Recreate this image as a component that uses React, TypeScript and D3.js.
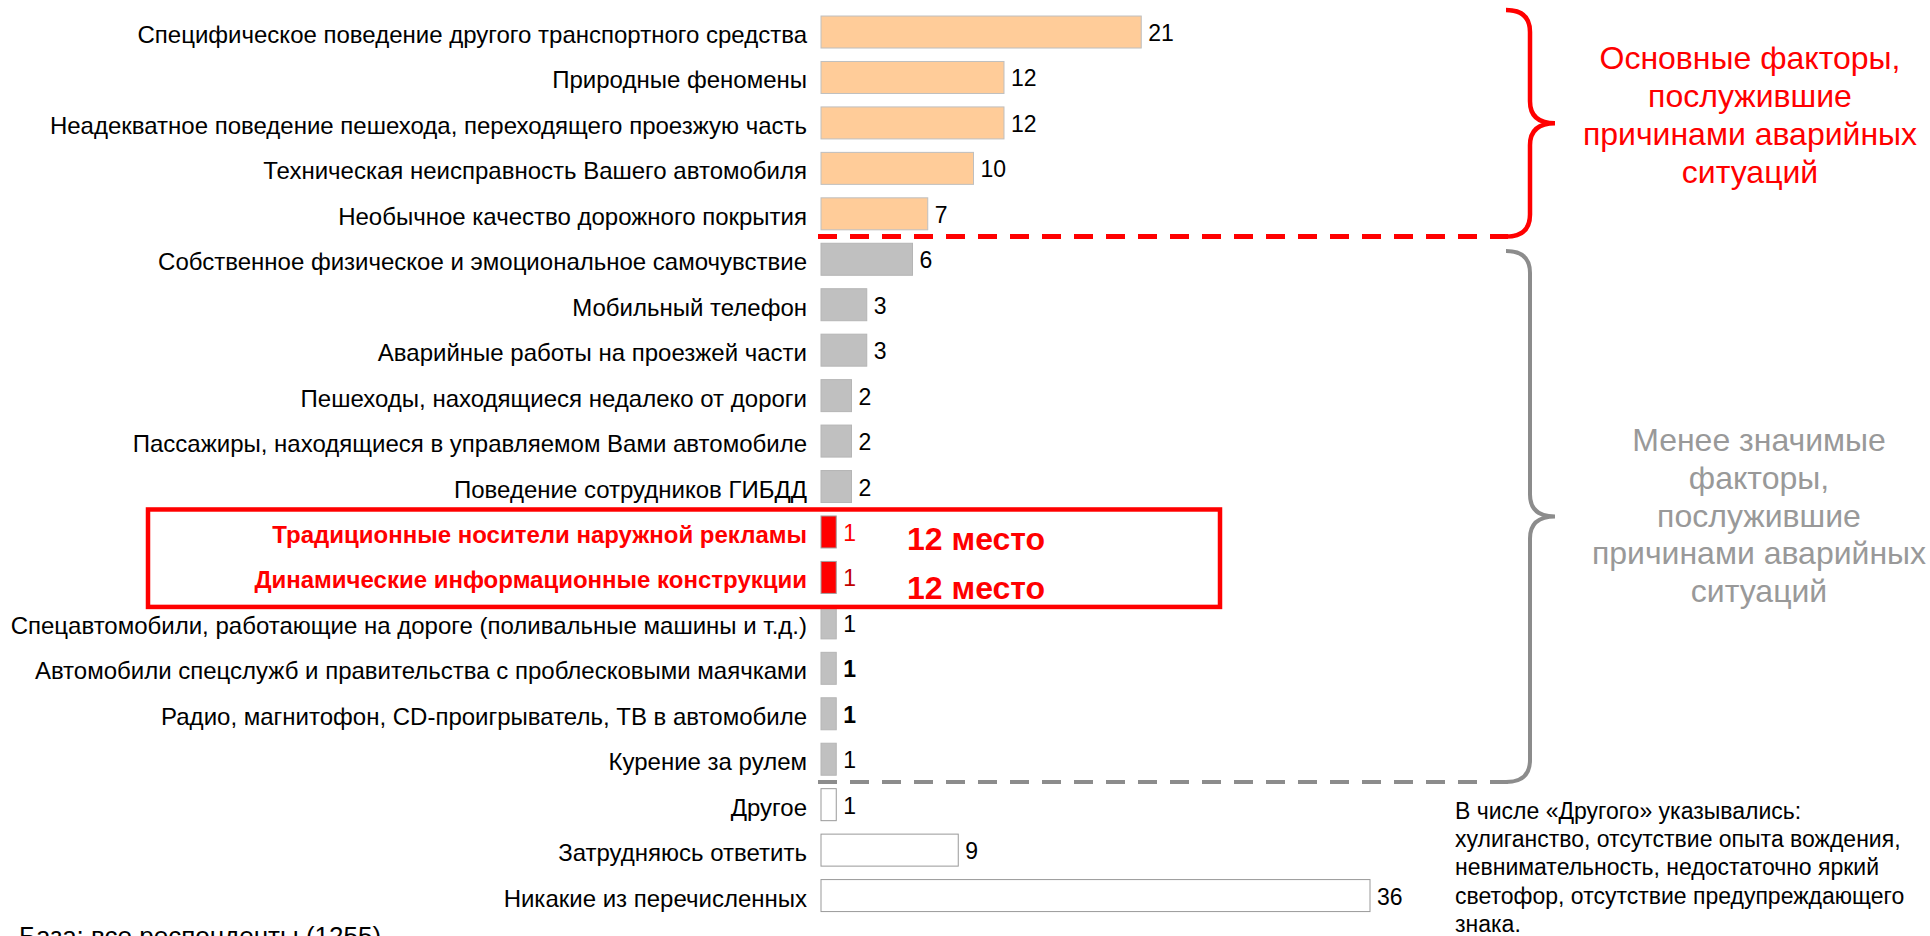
import * as d3 from "d3";

const categories = [
  "Специфическое поведение другого транспортного средства",
  "Природные феномены",
  "Неадекватное поведение пешехода, переходящего проезжую часть",
  "Техническая неисправность Вашего автомобиля",
  "Необычное качество дорожного покрытия",
  "Собственное физическое и эмоциональное самочувствие",
  "Мобильный телефон",
  "Аварийные работы на проезжей части",
  "Пешеходы, находящиеся недалеко от дороги",
  "Пассажиры, находящиеся в управляемом Вами автомобиле",
  "Поведение сотрудников ГИБДД",
  "Традиционные носители наружной рекламы",
  "Динамические информационные конструкции",
  "Спецавтомобили, работающие на дороге (поливальные машины и т.д.)",
  "Автомобили спецслужб и правительства с проблесковыми маячками",
  "Радио, магнитофон, CD-проигрыватель, ТВ в автомобиле",
  "Курение за рулем",
  "Другое",
  "Затрудняюсь ответить",
  "Никакие из перечисленных",
];

const values = [21, 12, 12, 10, 7, 6, 3, 3, 2, 2, 2, 1, 1, 1, 1, 1, 1, 1, 9, 36];

const groups = [
  "main", "main", "main", "main", "main",
  "minor", "minor", "minor", "minor", "minor", "minor",
  "highlight", "highlight",
  "minor", "minor", "minor", "minor",
  "other", "other", "other",
];

const rankLabel = "12 место";
const mainNote = ["Основные факторы,", "послужившие", "причинами аварийных", "ситуаций"];
const minorNote = ["Менее значимые", "факторы,", "послужившие", "причинами аварийных", "ситуаций"];
const otherNote = [
  "В числе «Другого» указывались:",
  "хулиганство, отсутствие опыта вождения,",
  "невнимательность, недостаточно яркий",
  "светофор, отсутствие предупреждающего",
  "знака.",
];
const baseNote = "База: все респонденты (1255)";

const W = 1930;
const H = 936;
const FONT = "'Liberation Sans', Arial, sans-serif";

const fills: Record<string, string> = {
  main: "#ffcc99",
  minor: "#c0c0c0",
  highlight: "#ff0000",
  other: "#ffffff",
};
const strokes: Record<string, string> = {
  main: "#bfbfbf",
  minor: "#b5b5b5",
  highlight: "#a0a0a0",
  other: "#999999",
};
const boldValues = new Set([14, 15]);

// curly brace opening to the left, tip pointing right
function brace(x0: number, top: number, bottom: number) {
  const spine = x0 + 24;
  const tip = x0 + 49;
  const mid = (top + bottom) / 2;
  const r = 22;
  const p = d3.path();
  p.moveTo(x0, top);
  p.quadraticCurveTo(spine, top, spine, top + r);
  p.lineTo(spine, mid - r);
  p.quadraticCurveTo(spine, mid, tip, mid);
  p.quadraticCurveTo(spine, mid, spine, mid + r);
  p.lineTo(spine, bottom - r);
  p.quadraticCurveTo(spine, bottom, x0, bottom);
  return p.toString();
}

export default function App() {
  const x = d3.scaleLinear().domain([0, 36]).range([821, 1370]);
  const y = d3
    .scaleBand<string>()
    .domain(categories)
    .range([9.3, 918.3])
    .paddingInner(0.296)
    .paddingOuter(0.148);
  const bw = y.bandwidth();
  const gap = (y.step() - bw) / 2;

  const redLineY = y(categories[4])! + bw + gap;
  const grayLineY = y(categories[16])! + bw + gap;
  const boxTop = y(categories[11])! - 6.5;
  const boxBottom = y(categories[12])! + bw + 13.5;

  return (
    <svg
      width={W}
      height={H}
      style={{ position: "absolute", left: 0, top: 0, background: "#fff" }}
      fontFamily={FONT}
    >
      {/* bars */}
      {categories.map((c, i) => (
        <rect
          key={c}
          x={x(0)}
          y={y(c)}
          width={x(values[i]) - x(0)}
          height={bw}
          fill={fills[groups[i]]}
          stroke={strokes[groups[i]]}
          strokeWidth={1}
        />
      ))}

      {/* category labels */}
      {categories.map((c, i) => (
        <text
          key={"l" + c}
          x={x(0) - 14}
          y={y(c)! + bw / 2 + 11}
          textAnchor="end"
          fontSize={24}
          fontWeight={groups[i] === "highlight" ? "bold" : "normal"}
          fill={groups[i] === "highlight" ? "#ff0000" : "#000"}
        >
          {c}
        </text>
      ))}

      {/* value labels */}
      {categories.map((c, i) => (
        <text
          key={"v" + c}
          x={x(values[i]) + 7}
          y={y(c)! + bw / 2 + 9}
          fontSize={23}
          fontWeight={boldValues.has(i) ? "bold" : "normal"}
          fill={i === 11 ? "#ff0000" : i === 12 ? "#c00000" : "#000"}
        >
          {values[i]}
        </text>
      ))}

      {/* highlight box */}
      <rect
        x={148}
        y={boxTop}
        width={1220 - 148}
        height={boxBottom - boxTop}
        fill="none"
        stroke="#ff0000"
        strokeWidth={4.5}
      />
      {[11, 12].map((i, k) => (
        <text
          key={"rank" + i}
          x={x(0) + 86}
          y={y(categories[i])! + bw / 2 + (k === 0 ? 18 : 22)}
          fontSize={32}
          fontWeight="bold"
          fill="#ff0000"
        >
          {rankLabel}
        </text>
      ))}

      {/* group separators */}
      <line
        x1={818}
        x2={1508}
        y1={redLineY}
        y2={redLineY}
        stroke="#ff0000"
        strokeWidth={5}
        strokeDasharray="19 13"
      />
      <line
        x1={818}
        x2={1508}
        y1={grayLineY}
        y2={grayLineY}
        stroke="#8c8c8c"
        strokeWidth={4}
        strokeDasharray="19 13"
      />

      {/* braces */}
      <path d={brace(1506, 10, redLineY)} fill="none" stroke="#ff0000" strokeWidth={4.5} />
      <path d={brace(1506, 251, grayLineY)} fill="none" stroke="#8c8c8c" strokeWidth={4} />

      {/* group notes */}
      {mainNote.map((t, i) => (
        <text key={"mn" + i} x={1750} y={69 + i * 38} textAnchor="middle" fontSize={32} fill="#ff0000">
          {t}
        </text>
      ))}
      {minorNote.map((t, i) => (
        <text key={"gn" + i} x={1759} y={451 + i * 37.8} textAnchor="middle" fontSize={32} fill="#999999">
          {t}
        </text>
      ))}

      {/* footnotes */}
      {otherNote.map((t, i) => (
        <text key={"on" + i} x={1455} y={819 + i * 28.2} fontSize={23} fill="#000">
          {t}
        </text>
      ))}
      <text x={19} y={945} fontSize={26} fill="#000">
        {baseNote}
      </text>
    </svg>
  );
}
